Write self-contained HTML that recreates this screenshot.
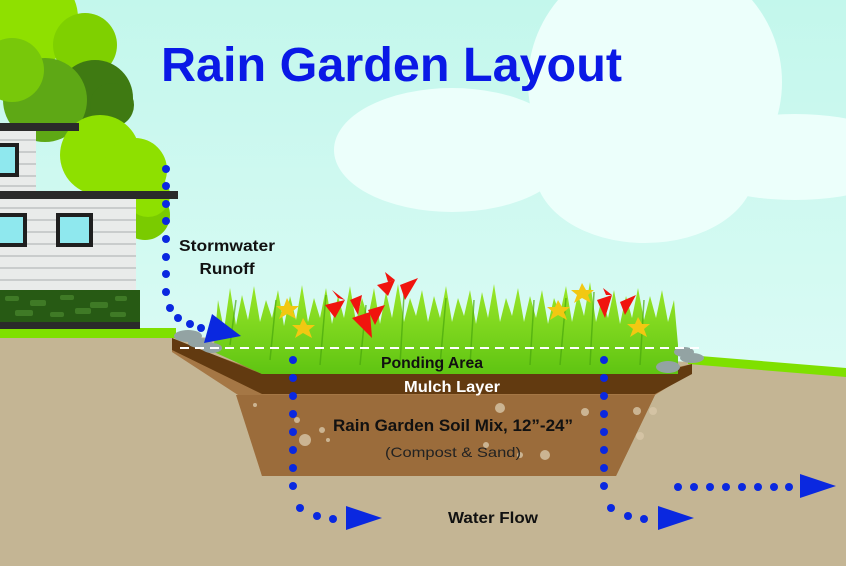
<!DOCTYPE html>
<html><head><meta charset="utf-8"><style>html,body{margin:0;padding:0;overflow:hidden;background:#fff}svg{display:block}</style></head>
<body>
<svg width="846" height="566" viewBox="0 0 846 566" xmlns="http://www.w3.org/2000/svg">
<defs>
<linearGradient id="sky" x1="0" y1="0" x2="0" y2="1"><stop offset="0" stop-color="#c3f7ec"/><stop offset="1" stop-color="#e6fdf9"/></linearGradient>
<linearGradient id="gr" x1="0" y1="0" x2="0" y2="1"><stop offset="0" stop-color="#9be82a"/><stop offset="1" stop-color="#5fc412"/></linearGradient>
</defs>
<rect width="846" height="566" fill="url(#sky)"/>
<!-- clouds -->
<g fill="#ecfffb">
<ellipse cx="452" cy="150" rx="118" ry="62"/>
<circle cx="655" cy="82" r="127"/>
<ellipse cx="645" cy="170" rx="110" ry="73"/>
<ellipse cx="795" cy="157" rx="115" ry="43"/>
</g>
<!-- ground -->
<polygon points="0,336 175,336 690,362 846,376 846,566 0,566" fill="#c4b594"/>
<rect x="0" y="328" width="176" height="10" fill="#7fe000"/>
<polygon points="688,355 846,368 846,377 688,364" fill="#7fe000"/>
<!-- tree -->
<g>
<circle cx="30" cy="18" r="48" fill="#8fe000"/>
<circle cx="85" cy="45" r="32" fill="#7fd000"/>
<circle cx="95" cy="98" r="38" fill="#3f7a12"/>
<circle cx="112" cy="105" r="22" fill="#3f7a12"/>
<circle cx="45" cy="100" r="42" fill="#5ea815"/>
<circle cx="12" cy="70" r="32" fill="#78c80a"/>
<circle cx="100" cy="155" r="40" fill="#8ee000"/>
<circle cx="135" cy="170" r="32" fill="#8ee000"/>
<circle cx="145" cy="215" r="25" fill="#7acb00"/>
<circle cx="148" cy="195" r="22" fill="#8ee000"/>
</g>
<!-- house -->
<rect x="0" y="131" width="36" height="62" fill="#e9ebea"/>
<g stroke="#c9cccc" stroke-width="2"><line x1="0" y1="140" x2="36" y2="140"/><line x1="0" y1="152" x2="36" y2="152"/><line x1="0" y1="164" x2="36" y2="164"/><line x1="0" y1="176" x2="36" y2="176"/><line x1="0" y1="186" x2="36" y2="186"/></g>
<rect x="-4" y="145" width="21" height="30" fill="#8fe8ee" stroke="#1f1f1f" stroke-width="4"/>
<rect x="0" y="123" width="79" height="8" fill="#2a2a2a"/>
<rect x="0" y="199" width="136" height="92" fill="#e9ebea"/>
<g stroke="#c9cccc" stroke-width="2"><line x1="0" y1="208" x2="136" y2="208"/><line x1="0" y1="220" x2="136" y2="220"/><line x1="0" y1="232" x2="136" y2="232"/><line x1="0" y1="244" x2="136" y2="244"/><line x1="0" y1="256" x2="136" y2="256"/><line x1="0" y1="268" x2="136" y2="268"/><line x1="0" y1="280" x2="136" y2="280"/></g>
<rect x="-4" y="215" width="29" height="30" fill="#8fe8ee" stroke="#1f1f1f" stroke-width="4"/>
<rect x="58" y="215" width="33" height="30" fill="#8fe8ee" stroke="#1f1f1f" stroke-width="4"/>
<rect x="0" y="191" width="178" height="8" fill="#2a2a2a"/>
<rect x="0" y="290" width="140" height="33" fill="#275a14"/>
<g fill="#3f7a26"><rect x="5" y="296" width="14" height="5" rx="2"/><rect x="30" y="300" width="16" height="6" rx="2"/><rect x="60" y="295" width="14" height="5" rx="2"/><rect x="90" y="302" width="18" height="6" rx="2"/><rect x="115" y="296" width="12" height="5" rx="2"/><rect x="15" y="310" width="18" height="6" rx="2"/><rect x="50" y="312" width="14" height="5" rx="2"/><rect x="75" y="308" width="16" height="6" rx="2"/><rect x="110" y="312" width="16" height="5" rx="2"/></g>
<rect x="0" y="322" width="140" height="7" fill="#2a2a2a"/>
<!-- basin -->
<polygon points="172,340 262,372 655,372 692,364 692,372 655,395 616,476 262,476 238,395 172,352" fill="#a57745"/>
<polygon points="236,395 655,395 616,476 262,476" fill="#9b6c3b"/>
<polygon points="172,338 262,374 655,374 692,364 692,374 655,394 262,394 172,350" fill="#623a10"/>
<g fill="#d8c7a8" opacity="0.8">
<circle cx="305" cy="440" r="6"/><circle cx="297" cy="420" r="3"/><circle cx="322" cy="430" r="3"/><circle cx="500" cy="408" r="5"/><circle cx="545" cy="455" r="5"/><circle cx="585" cy="412" r="4"/><circle cx="637" cy="411" r="4"/><circle cx="653" cy="411" r="4"/><circle cx="640" cy="436" r="4"/><circle cx="255" cy="405" r="2"/><circle cx="328" cy="440" r="2"/><circle cx="486" cy="445" r="3"/><circle cx="520" cy="455" r="3"/></g>
<!-- grass -->
<polygon fill="url(#gr)" points="214,345 218,300 224,330 230,288 236,325 242,295 248,320 254,286 260,322 266,300 272,318 278,290 284,326 290,296 296,320 302,285 308,322 314,298 320,318 326,288 332,324 338,296 344,318 350,286 356,322 362,298 368,318 374,288 380,324 386,292 392,318 398,284 404,322 410,298 416,316 422,290 428,322 434,296 440,318 446,286 452,322 458,298 464,316 470,290 476,324 482,292 488,318 494,284 500,322 506,298 512,316 518,288 524,322 530,296 536,318 542,290 548,324 554,298 560,314 566,286 572,322 578,294 584,316 590,282 596,322 602,298 608,318 614,290 620,324 626,296 632,318 638,288 644,320 650,296 656,318 662,290 668,322 674,300 678,345 678,374 262,374 214,352"/>
<g stroke="#4aa80e" stroke-width="1.5" fill="none" opacity="0.7"><path d="M230,345 L236,300"/><path d="M270,360 L276,300"/><path d="M320,365 L326,295"/><path d="M400,365 L404,295"/><path d="M470,365 L474,300"/><path d="M530,365 L534,300"/><path d="M590,365 L594,292"/><path d="M640,365 L644,300"/><path d="M360,365 L366,305"/><path d="M440,365 L446,298"/><path d="M560,365 L566,298"/></g>
<!-- flowers -->
<g fill="#f2c812">
<polygon points="287,298 291,306 299,306 293,311 296,319 287,314 279,319 282,311 276,306 284,306"/>
<polygon points="303,318 307,325 315,325 309,330 312,338 303,333 295,338 298,330 292,325 300,325"/>
<polygon points="558,300 562,307 570,307 564,312 567,320 558,315 550,320 553,312 547,307 555,307"/>
<polygon points="582,283 586,290 594,290 588,295 591,303 582,298 574,303 577,295 571,290 579,290"/>
<polygon points="638,317 642,324 650,324 644,329 647,337 638,332 630,337 633,329 627,324 635,324"/>
</g>
<g fill="#f0140e">
<polygon points="325,305 345,300 335,318"/><polygon points="332,290 345,300 338,298"/><polygon points="350,300 362,295 358,315"/><polygon points="352,318 370,312 372,338"/><polygon points="368,310 385,305 375,325"/><polygon points="377,285 395,280 388,296"/><polygon points="385,272 395,280 388,282"/><polygon points="400,285 418,278 405,300"/><polygon point="0,0"/>
<polygon points="597,300 612,295 605,318"/><polygon points="603,288 612,295 606,295"/><polygon points="620,302 636,295 625,315"/>
</g>
<!-- stones -->
<g fill="#93a3a3"><ellipse cx="188" cy="336" rx="14" ry="6"/><ellipse cx="200" cy="343" rx="12" ry="5"/><ellipse cx="212" cy="348" rx="10" ry="5"/><ellipse cx="684" cy="352" rx="10" ry="5"/><ellipse cx="692" cy="358" rx="12" ry="5"/><ellipse cx="668" cy="367" rx="12" ry="6"/></g>
<line x1="180" y1="348" x2="702" y2="348" stroke="#fff" stroke-width="2" stroke-dasharray="9,6"/>
<!-- flow dots -->
<g fill="#0a28e0">
<circle cx="166" cy="169" r="4"/><circle cx="166" cy="186" r="4"/><circle cx="166" cy="204" r="4"/><circle cx="166" cy="221" r="4"/><circle cx="166" cy="239" r="4"/><circle cx="166" cy="257" r="4"/><circle cx="166" cy="274" r="4"/><circle cx="166" cy="292" r="4"/><circle cx="170" cy="308" r="4"/><circle cx="178" cy="318" r="4"/><circle cx="190" cy="324" r="4"/><circle cx="201" cy="328" r="4"/>
<polygon points="212,314 241,336 204,343"/>
<circle cx="293" cy="360" r="4"/><circle cx="293" cy="378" r="4"/><circle cx="293" cy="396" r="4"/><circle cx="293" cy="414" r="4"/><circle cx="293" cy="432" r="4"/><circle cx="293" cy="450" r="4"/><circle cx="293" cy="468" r="4"/><circle cx="293" cy="486" r="4"/><circle cx="300" cy="508" r="4"/><circle cx="317" cy="516" r="4"/><circle cx="333" cy="519" r="4"/>
<polygon points="346,506 382,518 346,530"/>
<circle cx="604" cy="360" r="4"/><circle cx="604" cy="378" r="4"/><circle cx="604" cy="396" r="4"/><circle cx="604" cy="414" r="4"/><circle cx="604" cy="432" r="4"/><circle cx="604" cy="450" r="4"/><circle cx="604" cy="468" r="4"/><circle cx="604" cy="486" r="4"/><circle cx="611" cy="508" r="4"/><circle cx="628" cy="516" r="4"/><circle cx="644" cy="519" r="4"/>
<polygon points="658,506 694,518 658,530"/>
<circle cx="678" cy="487" r="4"/><circle cx="694" cy="487" r="4"/><circle cx="710" cy="487" r="4"/><circle cx="726" cy="487" r="4"/><circle cx="742" cy="487" r="4"/><circle cx="758" cy="487" r="4"/><circle cx="774" cy="487" r="4"/><circle cx="789" cy="487" r="4"/>
<polygon points="800,474 836,486 800,498"/>
</g>
<!-- text -->
<g font-family="Liberation Sans, sans-serif" font-weight="bold">
<text x="161" y="81" font-size="48" fill="#0a19e6" textLength="461" lengthAdjust="spacingAndGlyphs">Rain Garden Layout</text>
<text x="227" y="251" font-size="16" fill="#111" text-anchor="middle" textLength="96" lengthAdjust="spacingAndGlyphs">Stormwater</text>
<text x="227" y="274" font-size="16" fill="#111" text-anchor="middle" textLength="55" lengthAdjust="spacingAndGlyphs">Runoff</text>
<text x="432" y="368" font-size="16" fill="#111" text-anchor="middle" textLength="102" lengthAdjust="spacingAndGlyphs">Ponding Area</text>
<text x="452" y="392" font-size="16" fill="#fff" text-anchor="middle" textLength="96" lengthAdjust="spacingAndGlyphs">Mulch Layer</text>
<text x="453" y="431" font-size="17" fill="#111" text-anchor="middle" textLength="240" lengthAdjust="spacingAndGlyphs">Rain Garden Soil Mix, 12”-24”</text>
<text x="453" y="457" font-size="14" font-weight="normal" fill="#222" text-anchor="middle" textLength="136" lengthAdjust="spacingAndGlyphs">(Compost &amp; Sand)</text>
<text x="493" y="523" font-size="16" fill="#111" text-anchor="middle" textLength="90" lengthAdjust="spacingAndGlyphs">Water Flow</text>
</g>
</svg>
</body></html>
